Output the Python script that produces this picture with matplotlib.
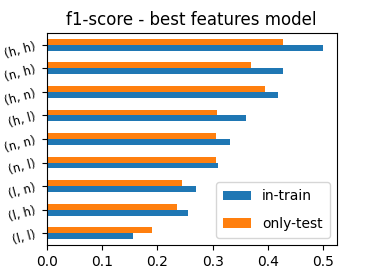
import matplotlib
matplotlib.use("Agg")
import matplotlib.pyplot as plt
import pandas as pd

labels = ['(l, l)', '(l, h)', '(l, n)', '(n, l)', '(n, n)', '(h, l)', '(h, n)', '(n, h)', '(h, h)']
in_train = [0.156, 0.256, 0.270, 0.309, 0.331, 0.361, 0.418, 0.427, 0.499]
only_test = [0.191, 0.235, 0.244, 0.306, 0.306, 0.307, 0.395, 0.369, 0.427]

df = pd.DataFrame({'in-train': in_train, 'only-test': only_test}, index=labels)

fig = plt.figure(figsize=(3.74, 2.8), dpi=100)
ax = fig.add_axes([0.125, 0.125, 0.775, 0.757])
df.plot.barh(ax=ax)
ax.set_title('f1-score - best features model', fontsize=12)
ax.tick_params(axis='x', labelsize=10)
ax.tick_params(axis='y', labelsize=8.5)
plt.setp(ax.get_yticklabels(), rotation=15)
ax.legend(loc='lower right', fontsize=10, labelspacing=1.0, borderpad=0.5)

fig.savefig('out.png', dpi=100)
